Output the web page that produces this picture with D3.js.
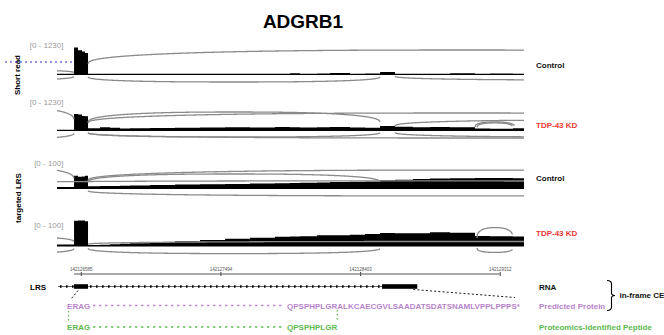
<!DOCTYPE html>
<html><head><meta charset="utf-8">
<script src="https://cdn.jsdelivr.net/npm/d3@7"></script>
<style>
html,body{margin:0;padding:0;background:#fff;}
svg{display:block;font-family:"Liberation Sans",Arial,Helvetica,sans-serif;}
</style></head><body>
<svg id="chart" width="664" height="335"></svg>
<script>
// ---------------- DATA ----------------
const geneName = "ADGRB1";
const groupLabels = ["Short read", "targeted LRS"];
const trackNames = ["Control", "TDP-43 KD", "Control", "TDP-43 KD"];
const rangeLabels = ["[0 - 1230]", "[0 - 1230]", "[0 - 100]", "[0 - 100]"];
const rangeMax = [1230, 1230, 100, 100];
const viewStart = 142126430, viewEnd = 142129470;
const tickPositions = [142126585, 142127494, 142128403, 142129312];

const binStarts = [142126430, 142126541, 142126567, 142126593, 142126612, 142126632,
  142126710, 142126775, 142126840, 142126905, 142127035, 142127198, 142127361,
  142127524, 142127686, 142127849, 142127947, 142128012, 142128122, 142128207,
  142128337, 142128435, 142128533, 142128630, 142128747, 142128858, 142128988,
  142129151, 142129249, 142129398, 142129470];

const covShortCtrl = [50, 1130, 1010, 960, 900, 55, 50, 55, 50, 55, 50, 55, 50, 55, 50,
  55, 70, 55, 60, 80, 55, 60, 120, 55, 55, 50, 70, 55, 60, 50];
const covShortKD = [50, 700, 680, 620, 600, 110, 150, 130, 100, 110, 120, 130, 140, 150,
  140, 160, 150, 140, 150, 160, 140, 130, 200, 170, 150, 160, 150, 100, 90, 110];
const covLrsCtrl = [7, 44, 41, 42, 44, 9, 10, 10, 11, 12, 13, 15, 16, 17, 18, 19, 20,
  21, 22, 23, 24, 25, 29, 31, 33, 35, 36, 37, 37, 36];
const covLrsKD = [7, 87, 88, 88, 86, 5, 6, 8, 9, 11, 14, 18, 22, 26, 30, 33, 34, 35,
  38, 38, 40, 42, 46, 45, 45, 48, 47, 36, 35, 34];

// junctions: [donor, acceptor, depth, side(+1 above / -1 below)]
const junctionsShortCtrl = [
  [142125500, 142126541, 205, 1], [142125500, 142126541, 205, -1],
  [142126632, 142131500, 1025, 1], [142126632, 142128533, 287, -1],
  [142128630, 142131500, 205, -1]];
const junctionsShortKD = [
  [142125500, 142126541, 984, 1], [142125500, 142126541, 328, -1],
  [142126632, 142131500, 738, 1], [142126632, 142128533, 779, 1],
  [142128630, 142131500, 451, 1], [142126632, 142131500, 287, -1],
  [142126632, 142128533, 246, -1], [142128630, 142131500, 246, -1],
  [142129164, 142129398, 330, 1], [142129151, 142129410, 370, 1]];
const junctionsLrsCtrl = [
  [142125500, 142126541, 73, 1], [142125500, 142131500, 27, 1],
  [142126632, 142131500, 63, 1], [142126632, 142128533, 50, 1],
  [142126632, 142131500, 23, -1]];
const junctionsLrsKD = [
  [142125500, 142126541, 34, 1], [142125500, 142126541, 24, -1],
  [142126632, 142128533, 24, -1], [142126632, 142131500, 17, 1],
  [142129164, 142129398, 64, 1], [142129164, 142129398, 20, -1]];

const exonStarts = [142126541, 142128546];
const exonEnds = [142126632, 142128775];
const transcriptStart = 142126430;

const proteinStart = "ERAG";
const proteinCE = "QPSPHPLGRALKCAECGVLSAADATSDATSNAMLVPPLPPPS*";
const peptideStart = "ERAG";
const peptideCE = "QPSPHPLGR";
const legendLabels = ["RNA", "Predicted Protein", "Proteomics-identified Peptide"];
const bracketLabel = "in-frame CE";
const modelLabel = "LRS";

// ---------------- LAYOUT ----------------
const svg = d3.select("#chart");
const X0 = 57, X1 = 524;
const x = d3.scaleLinear().domain([viewStart, viewEnd]).range([X0, X1]);
const purple = "#b784cb", green = "#5dba4f", red = "#ea3a35";

const coverage = [covShortCtrl, covShortKD, covLrsCtrl, covLrsKD];
const junctions = [junctionsShortCtrl, junctionsShortKD, junctionsLrsCtrl, junctionsLrsKD];
const baselines = [75, 131, 189, 246.5];
const heights = [30, 30, 30, 29.5];
const rangeY = [48, 105, 166, 228];
const nameY = [68, 128, 181, 236];
const arcExp = 2.5;

svg.append("defs").append("clipPath").attr("id", "clip")
  .append("rect").attr("x", X0).attr("y", 0).attr("width", X1 - X0).attr("height", 335);

// title
svg.append("text").attr("x", 303).attr("y", 28).attr("text-anchor", "middle")
  .attr("font-size", 19).attr("font-weight", "bold").text(geneName);

// group labels
[[20, 75], [21, 198]].forEach((p, i) => {
  svg.append("text").attr("transform", `translate(${p[0]},${p[1]}) rotate(-90)`)
    .attr("text-anchor", "middle").attr("font-size", 8).attr("font-weight", "bold")
    .text(groupLabels[i]);
});

// tracks
coverage.forEach((cov, ti) => {
  const base = baselines[ti];
  const y = d3.scaleLinear().domain([0, rangeMax[ti]]).range([base, base - heights[ti]]);
  const pts = cov.map((v, i) => ({ pos: binStarts[i], v }));
  pts.push({ pos: binStarts[binStarts.length - 1], v: cov[cov.length - 1] });
  const area = d3.area().x(d => x(d.pos)).y0(base).y1(d => y(d.v)).curve(d3.curveStepAfter);
  svg.append("path").attr("d", area(pts)).attr("fill", "#000");

  // sashimi arcs
  const g = svg.append("g").attr("clip-path", "url(#clip)");
  const line = d3.line().x(d => d[0]).y(d => d[1]);
  junctions[ti].forEach(j => {
    const [s, e, depth, side] = j;
    const h = base - y(depth);
    const xa = x(s), xb = x(e);
    const cx = (xa + xb) / 2, rx = (xb - xa) / 2;
    const yEnd = base - side * h * (side > 0 ? 0.45 : 0.25);
    const yPk = base - side * h;
    const lo = Math.max(xa, X0 - 1), hi = Math.min(xb, X1 + 1);
    const arr = [];
    for (let px = lo; px <= hi + 0.001; px += 0.5) {
      const pxx = Math.min(px, hi);
      const u = Math.min(1, Math.abs((pxx - cx) / rx));
      const f = Math.pow(1 - Math.pow(u, arcExp), 1 / arcExp);
      arr.push([pxx, yEnd + (yPk - yEnd) * f]);
    }
    g.append("path").attr("d", line(arr)).attr("fill", "none")
      .attr("stroke", "#8a8a8a").attr("stroke-width", 1.3);
  });

  svg.append("text").attr("x", 63.5).attr("y", rangeY[ti]).attr("text-anchor", "end")
    .attr("font-size", 8).attr("fill", "#9b9b9b").text(rangeLabels[ti]);
  svg.append("text").attr("x", 536).attr("y", nameY[ti]).attr("font-size", 8)
    .attr("font-weight", "bold").attr("fill", ti % 2 ? red : "#111").text(trackNames[ti]);
});

// blue tracking line
svg.append("line").attr("x1", 5).attr("x2", x(exonStarts[0])).attr("y1", 62).attr("y2", 62)
  .attr("stroke", "#2b2bd6").attr("stroke-width", 1).attr("stroke-dasharray", "2,3");

// genomic ruler
const axis = d3.axisTop(x).tickValues(tickPositions).tickFormat(d3.format("d"))
  .tickSizeInner(2).tickSizeOuter(0).tickPadding(1.5);
const ag = svg.append("g").attr("transform", "translate(0,274)").call(axis);
ag.select(".domain").remove();
ag.selectAll(".tick line").attr("stroke", "#444").attr("y2", -2).attr("y1", 2);
ag.selectAll(".tick text").attr("font-size", 4.5).attr("fill", "#555")
  .attr("font-family", "Liberation Sans, Arial, sans-serif");
svg.append("line").attr("x1", x(exonStarts[0])).attr("x2", x(tickPositions[tickPositions.length - 1]))
  .attr("y1", 274).attr("y2", 274).attr("stroke", "#555").attr("stroke-width", 1);

// gene model
const gy = 286.5;
svg.append("text").attr("x", 30).attr("y", 290).attr("font-size", 8).attr("font-weight", "bold")
  .text(modelLabel);
const txA = Math.max(x(transcriptStart), X0) + 1, txB = x(exonEnds[exonEnds.length - 1]);
svg.append("line").attr("x1", txA).attr("x2", txB).attr("y1", gy).attr("y2", gy)
  .attr("stroke", "#666").attr("stroke-width", 1);
svg.append("line").attr("x1", txA + 2).attr("x2", txB).attr("y1", gy).attr("y2", gy)
  .attr("stroke", "#000").attr("stroke-width", 2.4).attr("stroke-dasharray", "1.6,4.4");
exonStarts.forEach((s, i) => {
  svg.append("rect").attr("x", x(s)).attr("y", gy - 2.3)
    .attr("width", x(exonEnds[i]) - x(s)).attr("height", 4.6).attr("fill", "#000");
});

// protein / peptide rows
const pX = x(exonStarts[0]) - 7;
const ceX = 287;
const protY = 309, pepY = 330;
svg.append("text").attr("x", pX).attr("y", protY).attr("font-size", 8).attr("font-weight", "bold")
  .attr("fill", purple).text(proteinStart);
const ceText = svg.append("text").attr("x", ceX).attr("y", protY).attr("font-size", 8)
  .attr("font-weight", "bold").attr("fill", purple).text(proteinCE);
svg.append("text").attr("x", pX).attr("y", pepY).attr("font-size", 8).attr("font-weight", "bold")
  .attr("fill", green).text(peptideStart);
const pepText = svg.append("text").attr("x", ceX).attr("y", pepY).attr("font-size", 8)
  .attr("font-weight", "bold").attr("fill", green).text(peptideCE);
const ceEnd = ceX + ceText.node().getComputedTextLength();
const pepEnd = ceX + pepText.node().getComputedTextLength();

svg.append("line").attr("x1", pX + 26).attr("x2", ceX - 3).attr("y1", 305.5).attr("y2", 305.5)
  .attr("stroke", purple).attr("stroke-width", 1.5).attr("stroke-dasharray", "2.3,3.7");
svg.append("line").attr("x1", pX + 26).attr("x2", ceX - 3).attr("y1", 327).attr("y2", 327)
  .attr("stroke", green).attr("stroke-width", 1.5).attr("stroke-dasharray", "2.3,3.7");
svg.append("line").attr("x1", pX + 1.5).attr("x2", pX + 1.5).attr("y1", 311).attr("y2", 322)
  .attr("stroke", green).attr("stroke-width", 1.2).attr("stroke-dasharray", "1.5,2.5");
svg.append("line").attr("x1", pepEnd).attr("x2", pepEnd).attr("y1", 310).attr("y2", 322)
  .attr("stroke", green).attr("stroke-width", 1.2).attr("stroke-dasharray", "1.5,2.5");

// connectors from exons to protein
svg.append("line").attr("x1", x(exonStarts[0]) + 4).attr("y1", gy + 4)
  .attr("x2", pX + 4).attr("y2", 299)
  .attr("stroke", "#000").attr("stroke-width", 0.9).attr("stroke-dasharray", "2,2");
svg.append("line").attr("x1", x(exonEnds[1]) - 4).attr("y1", gy + 3)
  .attr("x2", ceEnd - 5).attr("y2", 297.5)
  .attr("stroke", "#000").attr("stroke-width", 0.9).attr("stroke-dasharray", "2,2.2");

// legend
const lx = 539;
svg.append("text").attr("x", lx).attr("y", 290).attr("font-size", 8).attr("font-weight", "bold")
  .attr("fill", "#111").text(legendLabels[0]);
svg.append("text").attr("x", lx).attr("y", 309).attr("font-size", 8).attr("font-weight", "bold")
  .attr("fill", purple).text(legendLabels[1]);
svg.append("text").attr("x", lx).attr("y", 330).attr("font-size", 8).attr("font-weight", "bold")
  .attr("fill", green).text(legendLabels[2]);
svg.append("path")
  .attr("d", "M607,280.5 Q611.5,280.5 611.5,284 L611.5,293 Q611.5,295.5 615,295.5 Q611.5,295.5 611.5,298 L611.5,307 Q611.5,310.5 607,310.5")
  .attr("fill", "none").attr("stroke", "#000").attr("stroke-width", 1.1);
svg.append("text").attr("x", 619.5).attr("y", 298).attr("font-size", 8).attr("font-weight", "bold")
  .attr("fill", "#111").text(bracketLabel);
</script>
</body></html>
